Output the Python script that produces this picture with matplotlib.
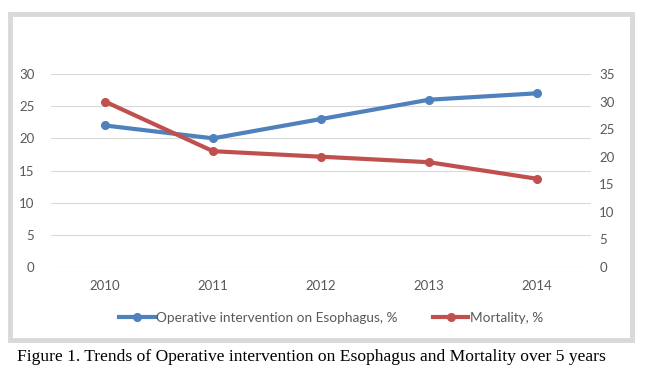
import matplotlib
matplotlib.use('Agg')
import matplotlib.pyplot as plt
from matplotlib.patches import Rectangle

years = ['2010', '2011', '2012', '2013', '2014']
operative = [22, 20, 23, 26, 27]
mortality = [30, 21, 20, 19, 16]

blue = '#4f81bd'
red = '#c0504d'
grey = '#595959'
fnt = ['Lato', 'DejaVu Sans']

fig = plt.figure(figsize=(6.68, 3.74), dpi=100)
fig.patches.append(Rectangle((10 / 668, 1 - 340 / 374), 622 / 668, 326 / 374,
                             transform=fig.transFigure, fill=False,
                             edgecolor='#d9d9d9', linewidth=3.5))

ax = fig.add_axes([51 / 668, 1 - 267 / 374, 540 / 668, 193 / 374])
ax2 = ax.twinx()
x = range(len(years))

l1, = ax.plot(x, operative, color=blue, lw=3, marker='o', ms=5.5,
              label='Operative intervention on Esophagus, %')
l2, = ax2.plot(x, mortality, color=red, lw=3, marker='o', ms=5.5,
               label='Mortality, %')

ax.set_xlim(-0.5, len(years) - 0.5)
ax.set_ylim(0, 30)
ax2.set_ylim(0, 35)
ax.set_yticks(range(0, 31, 5))
ax2.set_yticks(range(0, 36, 5))
ax.set_xticks(list(x))
ax.set_xticklabels(years)
ax.grid(axis='y', color='#d9d9d9', lw=0.8)
ax.set_axisbelow(True)
for a in (ax, ax2):
    for s in a.spines.values():
        s.set_visible(False)
    a.tick_params(length=0, colors=grey, labelsize=9.5)
    for t in a.get_xticklabels() + a.get_yticklabels():
        t.set_family(fnt)
ax.tick_params(axis='y', pad=12)
ax.tick_params(axis='x', pad=9)
ax2.tick_params(axis='y', pad=6)

fig.legend(handles=[l1, l2], loc='center', bbox_to_anchor=(331 / 668, 1 - 318 / 374),
           ncol=2, frameon=False, handlelength=2.6, handletextpad=0.1,
           columnspacing=2.6, prop={'family': fnt, 'size': 9.8}, labelcolor=grey)

fig.text(17 / 668, 1 - 357 / 374,
         'Figure 1. Trends of Operative intervention on Esophagus and Mortality over 5 years',
         family=['Liberation Serif', 'DejaVu Serif'], fontsize=12.6, va='center', ha='left')

fig.savefig('out.png', dpi=100)
